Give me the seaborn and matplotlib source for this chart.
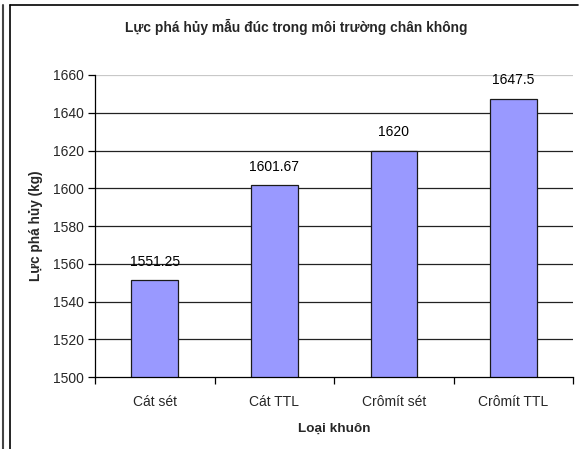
import matplotlib
matplotlib.use("Agg")
import matplotlib.pyplot as plt
import pandas as pd
import seaborn as sns
from matplotlib.lines import Line2D

categories = ["Cát sét", "Cát TTL", "Crômít sét", "Crômít TTL"]
values = [1551.25, 1601.67, 1620, 1647.5]
value_labels = ["1551.25", "1601.67", "1620", "1647.5"]
y_ticks = [1500, 1520, 1540, 1560, 1580, 1600, 1620, 1640, 1660]

sns.set_theme(style="white")
plt.rcParams["font.family"] = ["Liberation Sans", "DejaVu Sans"]

df = pd.DataFrame({"loai": categories, "luc": values})

fig = plt.figure(figsize=(5.79, 4.49), dpi=100)
ax = fig.add_axes([0.164, 0.160, 0.826, 0.673])

# horizontal gridlines; the top one sits on the plot-area edge and is light grey
for t in y_ticks[1:]:
    ax.axhline(t, color="#c8c8c8" if t == y_ticks[-1] else "#222222",
               linewidth=0.9, zorder=0)

sns.barplot(
    data=df,
    x="loai",
    y="luc",
    order=categories,
    color="#9999FF",
    saturation=1,
    width=0.39,
    edgecolor="#1a1a1a",
    linewidth=0.9,
    zorder=2,
    ax=ax,
)

for i, (v, lab) in enumerate(zip(values, value_labels)):
    ax.annotate(lab, (i, v), xytext=(0, 8), textcoords="offset points",
                ha="center", va="bottom", fontsize=10, color="black")

ax.set_xlim(-0.5, 3.5)
ax.set_ylim(1500, 1660)
ax.set_yticks(y_ticks)
ax.set_xticks(range(len(categories)))
ax.set_xticklabels(categories, fontsize=10)
ax.set_xticks([-0.5, 0.5, 1.5, 2.5, 3.5], minor=True)
ax.tick_params(axis="y", which="major", left=True, length=5, width=0.9,
               color="black", labelsize=10, pad=3)
ax.tick_params(axis="x", which="major", bottom=True, length=0, pad=13)
ax.tick_params(axis="x", which="minor", bottom=True, length=5, width=0.9,
               color="black")

for side in ["top", "right"]:
    ax.spines[side].set_visible(False)
for side in ["left", "bottom"]:
    ax.spines[side].set_color("black")
    ax.spines[side].set_linewidth(0.9)

ax.set_xlabel("Loại khuôn", fontsize=9.7, fontweight="bold", labelpad=10)
ax.set_ylabel("Lực phá hủy (kg)", fontsize=9.8, fontweight="bold", labelpad=7)
fig.text(0.511, 0.94, "Lực phá hủy mẫu đúc trong môi trường chân không",
         ha="center", va="center", fontsize=9.9, fontweight="bold")

# chart frame like the original spreadsheet export
fig.add_artist(Line2D([10 / 579, 10 / 579], [0, 1 - 5 / 449], color="black", linewidth=1.2))
fig.add_artist(Line2D([10 / 579, 578 / 579], [1 - 5 / 449, 1 - 5 / 449], color="black", linewidth=1.2))
fig.add_artist(Line2D([3 / 579, 3 / 579], [0, 1 - 5 / 449], color="#444444", linewidth=1.5))

fig.savefig("out.png", dpi=100)
